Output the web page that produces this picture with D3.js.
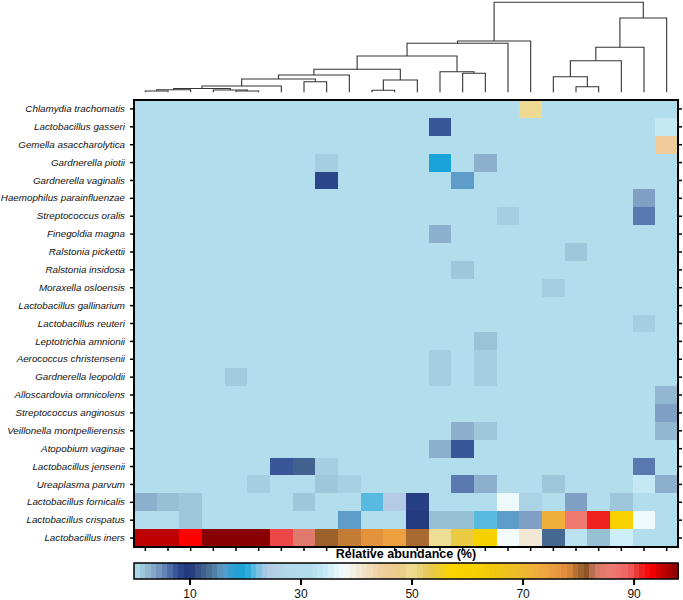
<!DOCTYPE html>
<html>
<head>
<meta charset="utf-8">
<script src="https://cdn.jsdelivr.net/npm/d3@7"></script>
<style>
  body { margin: 0; background: #fff; }
  svg { display: block; font-family: "Liberation Sans", Arial, sans-serif; }
</style>
</head>
<body>
<div id="chart"></div>
<script>
// species (rows, top to bottom)
const species = [
  "Chlamydia trachomatis", "Lactobacillus gasseri", "Gemella asaccharolytica",
  "Gardnerella piotii", "Gardnerella vaginalis", "Haemophilus parainfluenzae",
  "Streptococcus oralis", "Finegoldia magna", "Ralstonia pickettii",
  "Ralstonia insidosa", "Moraxella osloensis", "Lactobacillus gallinarium",
  "Lactobacillus reuteri", "Leptotrichia amnionii", "Aerococcus christensenii",
  "Gardnerella leopoldii", "Alloscardovia omnicolens", "Streptococcus anginosus",
  "Veillonella montpellierensis", "Atopobium vaginae", "Lactobacillus jensenii",
  "Ureaplasma parvum", "Lactobacillus fornicalis", "Lactobacillus crispatus",
  "Lactobacillus iners"
];

// relative abundance (%) per species, 24 samples in dendrogram order
const abundance = [
  [0,0,0,0,0,0,0,0,0,0,0,0,0,0,0,0,0,49.5,0,0,0,0,0,0],
  [0,0,0,0,0,0,0,0,0,0,0,0,0,7.5,0,0,0,0,0,0,0,0,0,34],
  [0,0,0,0,0,0,0,0,0,0,0,0,0,0,0,0,0,0,0,0,0,0,0,45],
  [0,0,0,0,0,0,0,0,1,0,0,0,0,20,0,3,0,0,0,0,0,0,0,0],
  [0,0,0,0,0,0,0,0,8.5,0,0,0,0,0,16,0,0,0,0,0,0,0,0,0],
  [0,0,0,0,0,0,0,0,0,0,0,0,0,0,0,0,0,0,0,0,0,0,4,0],
  [0,0,0,0,0,0,0,0,0,0,0,0,0,0,0,0,1,0,0,0,0,0,6,0],
  [0,0,0,0,0,0,0,0,0,0,0,0,0,3,0,0,0,0,0,0,0,0,0,0],
  [0,0,0,0,0,0,0,0,0,0,0,0,0,0,0,0,0,0,0,1.5,0,0,0,0],
  [0,0,0,0,0,0,0,0,0,0,0,0,0,0,1.5,0,0,0,0,0,0,0,0,0],
  [0,0,0,0,0,0,0,0,0,0,0,0,0,0,0,0,0,0,1,0,0,0,0,0],
  [0,0,0,0,0,0,0,0,0,0,0,0,0,0,0,0,0,0,0,0,0,0,0,0],
  [0,0,0,0,0,0,0,0,0,0,0,0,0,0,0,0,0,0,0,0,0,0,1,0],
  [0,0,0,0,0,0,0,0,0,0,0,0,0,0,0,1.8,0,0,0,0,0,0,0,0],
  [0,0,0,0,0,0,0,0,0,0,0,0,0,1,0,1,0,0,0,0,0,0,0,0],
  [0,0,0,0,1.2,0,0,0,0,0,0,0,0,1,0,1,0,0,0,0,0,0,0,0],
  [0,0,0,0,0,0,0,0,0,0,0,0,0,0,0,0,0,0,0,0,0,0,0,2.5],
  [0,0,0,0,0,0,0,0,0,0,0,0,0,0,0,0,0,0,0,0,0,0,0,4],
  [0,0,0,0,0,0,0,0,0,0,0,0,0,0,3,1.5,0,0,0,0,0,0,0,2.5],
  [0,0,0,0,0,0,0,0,0,0,0,0,0,3,7.5,0,0,0,0,0,0,0,0,0],
  [0,0,0,0,0,0,7.5,12.5,1,0,0,0,0,0,0,0,0,0,0,0,0,0,6,0],
  [0,0,0,0,0,1,0,0,1.5,0.8,0,0,0,0,6,3,0,0,1.5,0,0,0,34,3],
  [3,2,1.5,0,0,0,0,1.5,0,0,21.5,24.5,9,0,0,0,37.5,0.6,0,4,0,1.5,0,0],
  [0,0,1.5,0,0,0,0,0,0,16,0,0,9.5,2,2,21.5,16,4,72,86,91.5,59,37.5,0],
  [95.5,95.5,93,98,98,98,90,84.5,80.7,79,77,75,80,50,54,60,38,40.5,13,33,2,35,0,0]
];

// sample clustering: [merge height, left, right], leaves are column indices
const dendro = [90,
  [51.3,
    [49,
      [36.3,
        [23,
          [17.3,
            [13.3,
              [6.3, [3.8, [2.6, [1.3, 0, 1], 2], [2.3, 3, [1.3, 4, 5]]], 6],
              [10.6, 7, 8]],
            9],
          [12.3, [2, 10, 11], 12]],
        [20.6, 13, [19, 14, 15]]],
      16],
    17],
  [74.3, [45, [31.6, [15.6, 18, [5.6, 19, 20]], 21], 22], 23]
];

// colour bar ticks
const legendTicks = [10, 30, 50, 70, 90];
const legendMax = 98;

// palette stops (value -> colour)
const paletteValues = [0, 2, 4, 6, 8, 10, 12, 14, 16, 18, 20, 22, 24, 27, 32, 35, 38, 41, 45, 48, 50,
  53, 57, 62, 66, 70, 74, 78, 80, 81.5, 83, 86, 89, 91, 93, 95, 98];
const paletteColors = ["#b1ddec", "#98c0d5", "#7f9fc4", "#5a78b0", "#2e4a90", "#1f3578", "#3d5a8c",
  "#4d7898", "#5e9cc9", "#2a9fd2", "#1aa3d8", "#6cc0e4", "#b4c8e4", "#b0d8e8", "#b2dcec", "#cdeef8",
  "#f4fbfc", "#f1e4cc", "#f0cc98", "#eacc88", "#eedd94", "#e6c65a", "#fad400", "#f6d000", "#ecc414",
  "#eeb830", "#f0a640", "#e08c3c", "#a86a30", "#8e5526", "#d07a66", "#f07a72", "#f06464", "#ec2a2a",
  "#ff0000", "#c80000", "#880000"];

const W = 683, H = 600;
const mLeft = 134, mRight = 678, mTop = 100, mBottom = 547;

const svg = d3.select("#chart").append("svg")
  .attr("width", W).attr("height", H);

const color = d3.scaleLinear().domain(paletteValues).range(paletteColors).clamp(true);

const nCols = abundance[0].length;
const x = d3.scaleBand().domain(d3.range(nCols)).range([mLeft, mRight]);
const y = d3.scaleBand().domain(species).range([mTop, mBottom]);

// heatmap cells
const cells = [];
abundance.forEach((row, i) => row.forEach((v, j) => cells.push({ sp: species[i], col: j, v })));

svg.append("g")
  .selectAll("rect")
  .data(cells)
  .join("rect")
  .attr("x", d => x(d.col))
  .attr("y", d => y(d.sp))
  .attr("width", x.bandwidth() + 0.5)
  .attr("height", y.bandwidth() + 0.5)
  .attr("fill", d => color(d.v))
  .attr("shape-rendering", "crispEdges");

// axes
const yAxisL = svg.append("g")
  .attr("transform", `translate(${mLeft},0)`)
  .call(d3.axisLeft(y).tickSize(4).tickPadding(5));
yAxisL.select(".domain").remove();
yAxisL.selectAll("text").attr("font-size", "9.8px").attr("font-style", "italic").attr("fill", "#111");
yAxisL.selectAll("line").attr("stroke-width", 1.5);

const yAxisR = svg.append("g")
  .attr("transform", `translate(${mRight},0)`)
  .call(d3.axisRight(y).tickSize(4).tickFormat(""));
yAxisR.select(".domain").remove();
yAxisR.selectAll("line").attr("stroke-width", 1.5);

const xAxisB = svg.append("g")
  .attr("transform", `translate(0,${mBottom})`)
  .call(d3.axisBottom(x).tickSize(4).tickFormat(""));
xAxisB.select(".domain").remove();
xAxisB.selectAll("line").attr("stroke-width", 1.5);

// frame
svg.append("rect")
  .attr("x", mLeft).attr("y", mTop)
  .attr("width", mRight - mLeft).attr("height", mBottom - mTop)
  .attr("fill", "none").attr("stroke", "#000").attr("stroke-width", 2);

// dendrogram
function toNode(d) {
  if (typeof d === "number") return { leaf: d, h: 0 };
  return { h: d[0], children: [toNode(d[1]), toNode(d[2])] };
}
const root = d3.hierarchy(toNode(dendro));
root.eachAfter(n => {
  n.px = n.children ? d3.mean(n.children, c => c.px) : x(n.data.leaf) + x.bandwidth() / 2;
});
const hy = d3.scaleLinear().domain([0, 90]).range([92.3, 2.3]);

const dg = svg.append("g").attr("fill", "none").attr("stroke", "#333").attr("stroke-width", 1.1);
root.descendants().filter(n => n.children).forEach(n => {
  const yy = hy(n.data.h);
  const [a, b] = n.children;
  dg.append("path")
    .attr("d", `M${a.px},${hy(a.data.h)}V${yy}H${b.px}V${hy(b.data.h)}`);
});

// legend
svg.append("text")
  .attr("x", (mLeft + mRight) / 2).attr("y", 558)
  .attr("text-anchor", "middle")
  .attr("font-size", "12.5px").attr("font-weight", "bold")
  .text("Relative abundance (%)");

const lx = d3.scaleLinear().domain([0, legendMax]).range([mLeft, mRight]);
const barTop = 563, barH = 16;
svg.append("g")
  .selectAll("rect")
  .data(d3.range(0, legendMax))
  .join("rect")
  .attr("x", d => lx(d))
  .attr("y", barTop)
  .attr("width", lx(1) - lx(0) + 0.5)
  .attr("height", barH)
  .attr("fill", d => color(d + 0.5))
  .attr("shape-rendering", "crispEdges");

svg.append("rect")
  .attr("x", mLeft).attr("y", barTop)
  .attr("width", mRight - mLeft).attr("height", barH)
  .attr("fill", "none").attr("stroke", "#000").attr("stroke-width", 1.5);

const lAxis = svg.append("g")
  .attr("transform", `translate(0,${barTop + barH})`)
  .call(d3.axisBottom(lx).tickValues(legendTicks).tickSize(6).tickPadding(4));
lAxis.select(".domain").remove();
lAxis.selectAll("line").attr("stroke-width", 2);
lAxis.selectAll("text").attr("font-size", "12px").attr("fill", "#111");
</script>
</body>
</html>
